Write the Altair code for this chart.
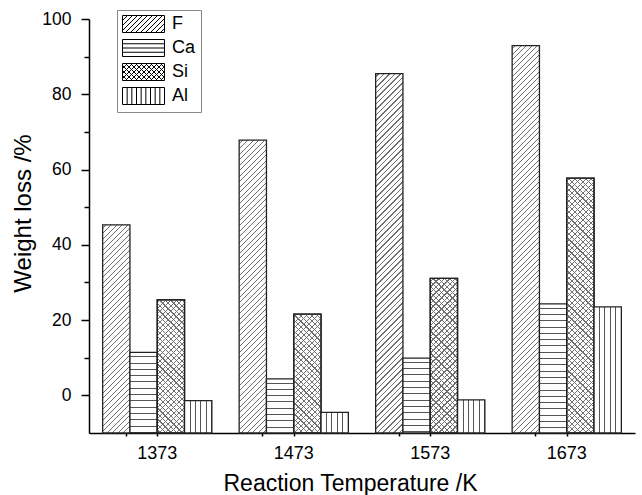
import altair as alt
import pandas as pd

# ---------------- data ----------------
temps = ["1373", "1473", "1573", "1673"]
series = ["F", "Ca", "Si", "Al"]
F_vals = [45.3, 67.8, 85.5, 92.9]
Ca_vals = [11.4, 4.4, 9.9, 24.3]
Si_vals = [25.4, 21.6, 31.1, 57.7]
Al_vals = [-1.4, -4.5, -1.2, 23.5]
y_ticks_major = [0, 20, 40, 60, 80, 100]
y_ticks_minor = [10, 30, 50, 70, 90]
y_min, y_max = -10, 100

vals = {"F": F_vals, "Ca": Ca_vals, "Si": Si_vals, "Al": Al_vals}
rows = []
for s in series:
    for t, v in zip(temps, vals[s]):
        rows.append({"temp": t, "series": s, "value": v, "base": y_min})
df = pd.DataFrame(rows)

# ---------------- layout ----------------
W, H = 546, 414
PAD_L, PAD_T = 89, 19
PAD_R, PAD_B = 642 - PAD_L - W, 495 - PAD_T - H
P_IN, P_OUT = 0.2, 0.1
FONT = "Liberation Sans"

step = W / (len(temps) - P_IN + 2 * P_OUT)
bar_w = step * (1 - P_IN) / len(series)


def bar_h(v):
    return (v - y_min) / (y_max - y_min) * H


def stops_for(total, period, thick, line, bg, phase):
    stops = [{"offset": 0, "color": bg}]
    q = phase
    while q < total - 0.3:
        a = round(q / total, 5)
        b = round(min((q + thick) / total, 1.0), 5)
        stops += [{"offset": a, "color": bg}, {"offset": a, "color": line},
                  {"offset": b, "color": line}, {"offset": b, "color": bg}]
        q += period
    stops.append({"offset": 1, "color": bg})
    return stops


def grad_fwd(w, h, period, line, bg):  # "/" lines  (x + y = c)
    k = (w + h) / (w * w + h * h)
    return {"gradient": "linear", "x1": 0, "y1": 0, "x2": k * w, "y2": k * h,
            "stops": stops_for(w + h, period, 1.2, line, bg, period / 2)}


def grad_back(w, h, period, line, bg):  # "\" lines  (x - y = c)
    k = (w + h) / (w * w + h * h)
    return {"gradient": "linear", "x1": 0, "y1": 1, "x2": k * w, "y2": 1 - k * h,
            "stops": stops_for(w + h, period, 1.2, line, bg, period / 2)}


def grad_horiz(h, period, line, bg):
    return {"gradient": "linear", "x1": 0, "y1": 0, "x2": 0, "y2": 1,
            "stops": stops_for(h, period, 1.0, line, bg, period * 0.6)}


def grad_vert(w, period, line, bg):
    return {"gradient": "linear", "x1": 0, "y1": 0, "x2": 1, "y2": 0,
            "stops": stops_for(w, period, 1.0, line, bg, period - 0.5)}


# ---------------- legend symbols (custom paths) ----------------
SYM_H = 17.0
SYM_W = 42.0
S = SYM_H / 2
L, R, T, B = -1.0, -1.0 + SYM_W / S, -1.0, 1.0


def f(v):
    return f"{v:.3f}"


def rect_path():
    return f"M{f(L)},{f(T)}L{f(R)},{f(T)}L{f(R)},{f(B)}L{f(L)},{f(B)}Z"


def fwd_lines(period_px):
    out = []
    st = period_px / S
    c = L + T + st
    while c < R + B:
        y0, y1 = max(T, c - R), min(B, c - L)
        if y1 - y0 > 0.01:
            out.append(f"M{f(c - y1)},{f(y1)}L{f(c - y0)},{f(y0)}")
        c += st
    return "".join(out)


def back_lines(period_px):
    out = []
    st = period_px / S
    c = L - B + st
    while c < R - T:
        y0, y1 = max(T, L - c), min(B, R - c)
        if y1 - y0 > 0.01:
            out.append(f"M{f(c + y0)},{f(y0)}L{f(c + y1)},{f(y1)}")
        c += st
    return "".join(out)


def horiz_lines(n):
    out = []
    for i in range(1, n + 1):
        y = T + (B - T) * i / (n + 1)
        out.append(f"M{f(L)},{f(y)}L{f(R)},{f(y)}")
    return "".join(out)


def vert_lines(n):
    out = []
    for i in range(1, n + 1):
        x = L + (R - L) * i / (n + 1)
        out.append(f"M{f(x)},{f(T)}L{f(x)},{f(B)}")
    return "".join(out)


shape_paths = [
    rect_path() + fwd_lines(5.0),
    rect_path() + horiz_lines(3),
    rect_path() + fwd_lines(5.0) + back_lines(5.0),
    rect_path() + vert_lines(8),
]

# ---------------- encodings ----------------
x_scale = alt.Scale(domain=temps, paddingInner=P_IN, paddingOuter=P_OUT)
y_scale = alt.Scale(domain=[y_min, y_max], nice=False, zero=False)

x_axis = alt.Axis(
    title="Reaction Temperature /K", titleFontSize=23, titleFont=FONT,
    titleFontWeight="normal", titleColor="black", titleX=261, titleY=57,
    titleBaseline="alphabetic",
    labelFont=FONT, labelFontSize=18, labelColor="black", labelAngle=0,
    labelPadding=8, bandPosition=0.214,
    tickSize=3, tickWidth=1.5, tickColor="black",
    domainColor="black", domainWidth=1.5, grid=False,
)
y_axis = alt.Axis(
    title="Weight loss /%", titleFontSize=24, titleFont=FONT,
    titleFontWeight="normal", titleColor="black", titleX=-54, titleY=194,
    titleBaseline="bottom",
    values=y_ticks_major, labelFont=FONT, labelFontSize=17.5,
    labelColor="black", labelPadding=10,
    tickSize=8, tickWidth=1.5, tickColor="black",
    domainColor="black", domainWidth=1.5, grid=False,
)

enc = dict(
    x=alt.X("temp:N", sort=temps, scale=x_scale, axis=x_axis),
    xOffset=alt.XOffset("series:N", sort=series,
                        scale=alt.Scale(domain=series, paddingInner=0, paddingOuter=0)),
    y=alt.Y("value:Q", scale=y_scale, axis=y_axis),
    y2=alt.Y2("base:Q"),
)

layers = []
WHITE = "white"
CLEAR = "rgba(255,255,255,0)"
DIAG = "#707070"
STRAIGHT = "#555555"
for s in series:
    for t, v in zip(temps, vals[s]):
        h = bar_h(v)
        if s == "F":
            fills = [grad_fwd(bar_w, h, 5.5, DIAG, WHITE)]
        elif s == "Ca":
            fills = [grad_horiz(h, 6.3, STRAIGHT, WHITE)]
        elif s == "Si":
            fills = [grad_fwd(bar_w, h, 5.5, DIAG, WHITE),
                     grad_back(bar_w, h, 5.5, DIAG, CLEAR)]
        else:
            fills = [grad_vert(bar_w, bar_w / 5, STRAIGHT, WHITE)]
        for fl in fills:
            layers.append(
                alt.Chart(df)
                .transform_filter((alt.datum.series == s) & (alt.datum.temp == t))
                .mark_bar(fill=fl, stroke="#222222", strokeWidth=1.3)
                .encode(**enc)
            )

legend_layer = alt.Chart(df).mark_point(opacity=0, color="black", strokeWidth=1).encode(
    x=enc["x"], xOffset=enc["xOffset"], y=enc["y"],
    shape=alt.Shape(
        "series:N", sort=series,
        scale=alt.Scale(domain=series, range=shape_paths),
        legend=alt.Legend(
            title=None, orient="none", legendX=28, legendY=-9,
            symbolSize=SYM_H * SYM_H, symbolStrokeWidth=1, symbolOpacity=1,
            symbolStrokeColor="black", symbolFillColor="white",
            labelFont=FONT, labelFontSize=18, labelColor="black",
            labelOffset=32, rowPadding=2, padding=5,
            strokeColor="#888888", fillColor="white",
        ),
    ),
)

bars = alt.layer(*layers, legend_layer)

# extra ticks (minor y ticks and second x tick set)
tick_layer = alt.Chart(df).mark_point(opacity=0).encode(
    x=alt.X("temp:N", sort=temps, scale=alt.Scale(domain=temps, paddingInner=P_IN, paddingOuter=P_OUT),
            axis=alt.Axis(orient="bottom", labels=False, title=None, domain=False,
                          bandPosition=0.8365, tickSize=3, tickWidth=1.5, tickColor="black", grid=False)),
    y=alt.Y("value:Q", scale=alt.Scale(domain=[y_min, y_max], nice=False, zero=False),
            axis=alt.Axis(orient="left", values=y_ticks_minor, labels=False, title=None,
                          domain=False, tickSize=5, tickWidth=1.5, tickColor="black", grid=False)),
)

chart = (
    alt.layer(bars, tick_layer)
    .resolve_scale(x="independent", y="independent")
    .properties(
        width=W, height=H,
        autosize=alt.AutoSizeParams(type="none"),
        padding={"left": PAD_L, "top": PAD_T, "right": PAD_R, "bottom": PAD_B},
        background="white",
    )
    .configure_view(stroke=None)
    .configure_legend(labelFontSize=18, labelFont=FONT)
)

chart.save("out.html", embed_options={"renderer": "svg", "actions": False})
